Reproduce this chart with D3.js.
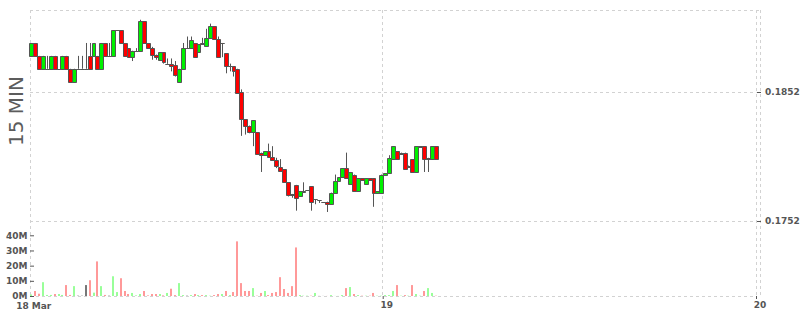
<!DOCTYPE html>
<html><head><meta charset="utf-8">
<script src="https://cdn.jsdelivr.net/npm/d3@7"></script>
<style>html,body{margin:0;padding:0;background:#fff;overflow:hidden}</style>
</head><body>
<svg id="chart" width="800" height="315"></svg>
<script>
// ---------- data ----------
const firstCandle = "2024-03-18T01:15:00Z";
const candleMinutes = 15;
const domainEnd = "2024-03-20T00:00:00Z";

const open = [
.1880,.1890,.1880,.1870,.1870,.1870,.1880,.1870,.1870,.1880,
.1870,.1860,.1870,.1870,.1870,.1880,.1880,.1880,.1870,.1890,
.1880,.1880,.18998,.1900,.1890,.1886,.1879,.18838,.1884,.1907,
.1890,.1886,.1881,.1877,.1883,.18738,.1874,.1873,.1860,.1870,
.1886,.1886,.1890,.1883,.1890,.1888,.1894,.1903,.1893,.18898,
.1882,.18718,.1872,.1870,.1852,.1831,.1826,.1821,.1821,.1805,
.1803,.1806,.1802,.1799,.1794,.1792,.1782,.1773,.1780,.1771,
.17748,.17758,.1779,.17688,.1768,.1767,.1767,.1765,.1774,.1783,
.1786,.1793,.1781,.1788,.1775,.1785,.1781,.1785,.1785,.1774,
.1774,.1788,.1789,.1800,.1806,.1804,.1805,.1794,.1800,.1790,
.1809,.1810,.1800,.1800,.1810];
const high = [
.1890,.1890,.1880,.1880,.1880,.1880,.1880,.1870,.1880,.1880,
.1870,.1870,.1880,.1880,.1890,.1890,.1890,.1880,.1890,.1890,
.1890,.1900,.1900,.1900,.1890,.1886,.1884,.1886,.1908,.1907,
.1890,.1887,.1881,.1883,.1883,.1878,.1878,.1876,.1870,.1890,
.1895,.1895,.1890,.1889,.1894,.1901,.1905,.1903,.1895,.1890,
.1882,.1874,.1872,.1870,.1854,.1831,.1826,.1830,.1821,.1805,
.1806,.1812,.1810,.1801,.1800,.1792,.1782,.1773,.1780,.1775,
.1782,.1776,.1779,.1769,.1768,.1767,.1767,.1774,.1788,.1786,
.1793,.1805,.1790,.1788,.1785,.1785,.1785,.1785,.1785,.1775,
.1788,.1789,.1803,.1810,.1806,.1805,.1805,.1795,.1800,.1810,
.1810,.1810,.1801,.1810,.1810];
const low = [
.1880,.1880,.1870,.1870,.1870,.1870,.1870,.1870,.1870,.1870,
.1860,.1860,.1870,.1870,.1870,.1870,.1880,.1870,.1870,.1880,
.1880,.1880,.18998,.1890,.1880,.1879,.1876,.18838,.1884,.1890,
.1886,.1877,.1877,.1877,.1874,.18738,.1868,.1864,.1860,.1870,
.1886,.1886,.1879,.1883,.1889,.1888,.1894,.1893,.1879,.1879,
.18665,.1868,.1864,.1851,.1818,.1819,.1820,.1810,.1804,.1790,
.1803,.1802,.1799,.1793,.1790,.1782,.1771,.1770,.1760,.1771,
.17748,.17758,.1760,.1765,.1766,.1767,.1759,.1765,.1774,.1783,
.1786,.1785,.1781,.1775,.1775,.1784,.1781,.1784,.1763,.1774,
.1774,.1788,.1789,.1800,.1800,.1804,.1792,.1794,.1790,.1790,
.1809,.1790,.1790,.1800,.1800];
const close = [
.1890,.1880,.1870,.1880,.18702,.1880,.1870,.18702,.1880,.1870,
.1860,.1870,.1870,.1870,.1870,.1870,.1890,.1870,.1890,.1880,
.1880,.1900,.1900,.1890,.1880,.1879,.1884,.1884,.1907,.1890,
.1886,.1881,.1879,.1883,.1875,.1874,.1872,.1865,.1870,.1886,
.1886,.1892,.1879,.1889,.1889,.1894,.1903,.1893,.1879,.1890,
.1872,.1872,.1868,.1851,.1831,.1826,.1821,.1830,.1804,.1803,
.1806,.1802,.1799,.1795,.1791,.1782,.1772,.1772,.1770,.1775,
.1775,.1776,.1767,.1769,.1768,.1767,.1765,.1774,.1783,.1786,
.1793,.1785,.1790,.1775,.1785,.1784,.1785,.1784,.1774,.1775,
.1788,.1789,.1801,.1810,.1800,.1805,.1792,.1795,.1790,.1810,
.1810,.1800,.1801,.1810,.1800];
// volume in millions
const volumeM = [
1.0,3.3,1.5,9.1,0.7,0.7,1.3,1.3,0.7,7.2,
0.7,6.5,0.2,0.2,7.2,10.4,2.2,22.8,6.5,0.7,
0.2,13.0,2.6,11.7,3.3,1.3,2.0,0.4,1.3,3.3,
0.4,1.3,1.3,1.3,0.4,2.0,4.8,0.6,8.5,0.6,
0.2,0.6,1.3,0.6,0.6,0.6,0.2,0.6,1.3,1.3,
3.3,0.6,2.6,36.0,8.5,3.3,3.3,5.2,0.2,2.0,
3.3,0.6,2.0,2.6,12.4,4.6,2.0,6.5,32.0,0.6,
0.2,0.2,0.2,2.0,0.05,0.05,0.05,0.6,0.05,0.05,
0.6,5.2,5.9,1.3,0.6,0.2,0.2,0.2,2.0,0.2,
0.2,0.6,0.6,3.3,7.2,0.2,0.6,0.2,7.2,1.3,
0.2,3.3,5.2,2.0,0.2];

const priceTicks = [0.1752, 0.1852];
const volumeTicks = [0, 10, 20, 30, 40];
const dayTicks = ["2024-03-19T00:00:00Z", "2024-03-20T00:00:00Z"];
const dayLabels = ["19", "20"];
const startLabel = "18 Mar";
const paneLabel = "15 MIN";

// ---------- layout ----------
const L = 30, R = 760, T = 10, B = 296;
const svg = d3.select("#chart");
const t0 = new Date(firstCandle);
const step = candleMinutes * 60000;

const x = d3.scaleUtc().domain([t0, new Date(domainEnd)]).range([29.34, 756.5]);
const yP = d3.scaleLinear().domain([priceTicks[0], priceTicks[1]]).range([221, 92]);
const yV = d3.scaleLinear().domain([0, 40]).range([B, 235.3]);

const gridColor = "#d2d2d2";
const grid = svg.append("g").attr("stroke", gridColor).attr("stroke-dasharray", "3,3").attr("fill", "none");
const dayX = dayTicks.map(d => Math.round(x(new Date(d))) - 0.5);
// frame
grid.append("line").attr("x1", L).attr("x2", R + 1).attr("y1", T + 0.5).attr("y2", T + 0.5);
grid.append("line").attr("x1", L + 0.5).attr("x2", L + 0.5).attr("y1", T).attr("y2", B);
grid.append("line").attr("x1", R + 0.5).attr("x2", R + 0.5).attr("y1", T).attr("y2", B);
grid.append("line").attr("x1", L).attr("x2", dayX[1]).attr("y1", B + 0.5).attr("y2", B + 0.5);
dayX.forEach(px => grid.append("line").attr("x1", px).attr("x2", px).attr("y1", T).attr("y2", B));
priceTicks.forEach(p => {
  const py = Math.round(yP(p)) + 0.5;
  grid.append("line").attr("x1", L).attr("x2", dayX[1]).attr("y1", py).attr("y2", py);
});

// ---------- volume ----------
const n = open.length;
const idx = d3.range(n);
const colUp = "#00f000", colDn = "#ff0000";
const volCol = i => close[i] > open[i] ? "#99ff99" : (close[i] < open[i] ? "#ff9999" : "#777777");
const cx = i => (x(new Date(+t0 + i * step)) + x(new Date(+t0 + (i + 1) * step))) / 2;

svg.append("g").selectAll("rect").data(idx).join("rect")
  .attr("x", i => Math.round(cx(i)) - 1)
  .attr("width", 2)
  .attr("y", i => yV(volumeM[i]))
  .attr("height", i => B - yV(volumeM[i]))
  .attr("fill", i => volCol(i));

// ---------- candles ----------
const cg = svg.append("g").attr("stroke", "#555").attr("stroke-width", 1);
cg.selectAll("line").data(idx).join("line")
  .attr("x1", i => Math.round(cx(i)) + 0.5)
  .attr("x2", i => Math.round(cx(i)) + 0.5)
  .attr("y1", i => yP(high[i]))
  .attr("y2", i => yP(low[i]));
cg.selectAll("path").data(idx).join("path")
  .attr("d", i => {
    const x0 = Math.round(x(new Date(+t0 + i * step))) + 0.5;
    const x1 = Math.round(x(new Date(+t0 + (i + 1) * step))) + 0.5;
    const ya = Math.round(yP(Math.max(open[i], close[i]))) + 0.5;
    const yb = Math.round(yP(Math.min(open[i], close[i]))) + 0.5;
    return `M${x0},${ya}H${x1}V${yb}H${x0}Z`;
  })
  .attr("fill", i => close[i] > open[i] ? colUp : (close[i] < open[i] ? colDn : "#555"));

// ---------- axes ----------
const font = "bold 9px 'DejaVu Sans', Verdana, sans-serif";
const axColor = "#555";
function styleAxis(g) {
  g.select(".domain").remove();
  g.selectAll(".tick line").attr("stroke", axColor);
  g.selectAll(".tick text").attr("fill", axColor).style("font", font);
}
svg.append("g").attr("transform", `translate(${R - 3},0)`)
  .call(d3.axisRight(yP).tickValues(priceTicks).tickSize(4).tickPadding(4).tickFormat(d3.format(".4f")))
  .call(styleAxis);
svg.append("g").attr("transform", `translate(${L + 4},0)`)
  .call(d3.axisLeft(yV).tickValues(volumeTicks).tickSize(4).tickPadding(2.5).tickFormat(d => d + "M"))
  .call(styleAxis);
const xa = svg.append("g").attr("transform", `translate(0,${B})`)
  .call(d3.axisBottom(x).tickValues(dayTicks.map(d => new Date(d))).tickSize(3).tickPadding(3)
    .tickFormat((d, i) => dayLabels[i]))
  .call(styleAxis);
xa.selectAll(".tick line").attr("transform", "translate(-0.5,0)");
xa.selectAll(".tick text").attr("dx", 3);
svg.append("text").attr("x", L + 3.7).attr("y", 309).attr("text-anchor", "middle")
  .attr("fill", axColor).style("font", font).text(startLabel);

// pane label
svg.append("text").attr("transform", "translate(23,111) rotate(-90)")
  .attr("text-anchor", "middle").attr("fill", "#5c5c5c")
  .style("font", "20px 'DejaVu Sans', sans-serif").text(paneLabel);
</script>
</body></html>
